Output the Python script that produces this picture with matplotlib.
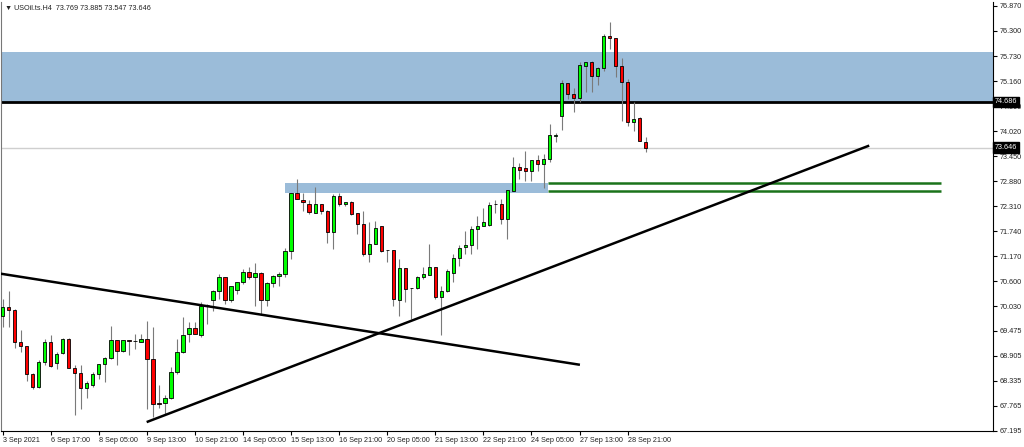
import matplotlib
matplotlib.use('Agg')
import matplotlib.pyplot as plt
import numpy as np

plt.rcParams['font.family'] = ['Liberation Sans', 'DejaVu Sans']

# ---- data (H4 candles) ----
opens = [69.806, 70.011, 69.950, 69.214, 69.123, 68.477, 68.190, 68.759, 69.228, 68.743,
         68.964, 69.290, 68.636, 68.509, 68.167, 68.227, 68.493, 68.714, 68.850, 69.260,
         69.023, 69.250, 69.235, 69.214, 69.290, 68.834, 67.826, 67.826, 67.940, 68.532,
         68.987, 69.403, 69.533, 69.365, 70.050, 70.162, 70.375, 70.694, 70.162, 70.412,
         70.580, 70.822, 70.694, 70.792, 70.184, 70.564, 70.717, 70.769, 71.300, 72.613,
         72.454, 72.363, 72.158, 72.363, 72.210, 71.732, 72.538, 72.363, 72.415, 72.151,
         71.907, 71.225, 71.452, 71.855, 71.310, 71.316, 70.177, 70.899, 70.444, 70.444,
         70.694, 70.746, 70.922, 70.252, 70.389, 70.792, 71.127, 71.377, 71.436, 71.794,
         71.855, 71.885, 72.350, 72.363, 72.021, 72.665, 73.198, 73.175, 73.121, 73.357,
         73.273, 73.387, 73.918, 74.373, 75.110, 74.867, 74.776, 75.511, 75.588, 75.270,
         75.452, 76.180, 76.135, 75.511, 75.133, 74.236, 74.314, 73.769]
highs = [70.200, 70.389, 69.960, 69.501, 69.130, 68.516, 68.796, 69.290, 69.365, 68.987,
         69.306, 69.300, 68.682, 68.698, 68.340, 68.532, 68.720, 68.873, 69.592, 69.270,
         69.267, 69.255, 69.403, 69.403, 69.706, 69.556, 68.227, 67.999, 68.645, 69.290,
         69.784, 69.670, 69.683, 70.125, 70.086, 70.400, 70.769, 70.700, 70.503, 70.594,
         70.883, 70.922, 71.020, 70.800, 70.594, 70.746, 70.808, 71.361, 72.620, 72.932,
         72.613, 72.461, 72.743, 72.370, 72.215, 72.590, 72.613, 72.415, 72.420, 72.155,
         72.210, 71.946, 71.983, 71.860, 71.320, 71.320, 71.111, 70.905, 70.450, 70.717,
         70.922, 71.452, 70.925, 70.503, 70.883, 71.225, 71.429, 71.755, 71.869, 72.083,
         72.265, 72.415, 72.461, 72.477, 72.688, 73.426, 73.296, 73.576, 73.357, 73.478,
         73.501, 74.177, 73.972, 75.185, 75.115, 74.997, 75.602, 75.588, 75.625, 75.470,
         76.233, 76.513, 76.140, 75.679, 75.208, 74.678, 74.336, 73.885]
lows = [69.563, 69.556, 69.078, 69.000, 68.340, 68.151, 68.170, 68.682, 68.645, 68.607,
        68.948, 68.620, 67.544, 67.696, 67.940, 68.197, 68.379, 68.304, 68.834, 68.698,
        68.994, 68.910, 69.062, 69.210, 67.696, 67.507, 67.719, 67.582, 67.930, 68.493,
        68.971, 69.214, 69.400, 69.328, 69.631, 69.930, 70.200, 70.086, 70.139, 70.314,
        70.542, 70.655, 70.048, 69.859, 70.048, 70.467, 70.503, 70.694, 71.111, 72.477,
        72.210, 72.135, 72.158, 72.135, 71.475, 71.338, 72.310, 72.324, 72.112, 71.680,
        71.186, 71.049, 71.452, 71.263, 71.049, 70.048, 69.820, 70.125, 69.745, 70.428,
        70.655, 70.740, 70.200, 69.381, 70.353, 70.580, 70.958, 71.225, 71.225, 71.338,
        71.850, 71.870, 72.158, 71.907, 71.566, 72.660, 72.932, 72.893, 72.893, 73.121,
        72.720, 73.326, 73.767, 74.054, 74.753, 74.450, 74.678, 74.905, 74.905, 75.072,
        75.397, 75.891, 75.247, 74.259, 74.145, 74.031, 73.804, 73.547]
closes = [70.011, 69.957, 69.214, 69.123, 68.477, 68.190, 68.759, 69.214, 68.659, 68.948,
          69.290, 68.623, 68.509, 68.167, 68.281, 68.493, 68.714, 68.850, 69.260, 69.023,
          69.260, 69.240, 69.230, 69.290, 68.834, 67.803, 67.794, 67.940, 68.532, 68.987,
          69.381, 69.533, 69.403, 70.048, 70.070, 70.375, 70.694, 70.162, 70.503, 70.580,
          70.822, 70.694, 70.792, 70.184, 70.564, 70.717, 70.769, 71.300, 72.613, 72.477,
          72.401, 72.174, 72.363, 72.210, 71.719, 72.538, 72.363, 72.415, 72.135, 71.907,
          71.225, 71.452, 71.810, 71.300, 71.315, 70.200, 70.899, 70.428, 70.440, 70.694,
          70.762, 70.922, 70.252, 70.389, 70.844, 71.127, 71.361, 71.436, 71.794, 71.855,
          71.946, 72.340, 72.360, 72.021, 72.688, 73.212, 73.143, 73.121, 73.357, 73.273,
          73.387, 73.933, 73.918, 75.110, 74.867, 74.776, 75.534, 75.588, 75.283, 75.452,
          76.180, 76.135, 75.511, 75.133, 74.222, 74.298, 73.804, 73.646]

date_labels = ["3 Sep 2021", "6 Sep 17:00", "8 Sep 05:00", "9 Sep 13:00", "10 Sep 21:00",
               "14 Sep 05:00", "15 Sep 13:00", "16 Sep 21:00", "20 Sep 05:00", "21 Sep 13:00",
               "22 Sep 21:00", "24 Sep 05:00", "27 Sep 13:00", "28 Sep 21:00"]
date_label_bars = [0, 8, 16, 24, 32, 40, 48, 56, 64, 72, 80, 88, 96, 104]
price_ticks = [76.870, 76.300, 75.730, 75.160, 74.590, 74.020, 73.450, 72.880, 72.310,
               71.740, 71.170, 70.600, 70.030, 69.475, 68.905, 68.335, 67.765, 67.195]

# drawn objects (bar index, price)
resistance_zone = (74.651, 75.816)
resistance_level = 74.686
support_zone = (46.97, 90.7, 72.620, 72.848)
green_levels = [72.834, 72.652]
green_span = (90.7, 156.1)
falling_line = ([-0.3, 96.06], [70.772, 68.698])
rising_line = ([23.96, 144.2], [67.393, 73.690])
bid_price = 73.646
title = "\u25BC USOil.ts.H4  73.769 73.885 73.547 73.646"

# ---- figure ----
W, H = 1024, 447
fig = plt.figure(figsize=(W / 100, H / 100), dpi=100)
fig.patch.set_facecolor('white')
ax = fig.add_axes([1 / W, (H - 431) / H, 992 / W, 429 / H])
ax.set_facecolor('white')

x = np.arange(len(opens))
o = np.array(opens); c = np.array(closes); hi = np.array(highs); lo = np.array(lows)

# zones
ax.axhspan(resistance_zone[0], resistance_zone[1], color='#9bbcd9', zorder=0, lw=0)
ax.fill_between([support_zone[0], support_zone[1]], support_zone[2], support_zone[3],
                color='#9bbcd9', zorder=0, lw=0)
ax.axhline(bid_price, color='#cfcfcf', lw=1.0, zorder=1)
ax.axhline(resistance_level, color='black', lw=2.0, zorder=1)
for g in green_levels:
    ax.plot(green_span, [g, g], color='#1a731a', lw=1.8, zorder=3, solid_capstyle='butt')

# candles
ax.vlines(x, lo, hi, color='#7a7a7a', lw=0.8, zorder=4)
bull = c >= o
body_bottom = np.minimum(o, c)
body_h = np.maximum(np.abs(c - o), 0.012)
ax.bar(x[bull], body_h[bull], bottom=body_bottom[bull], width=0.55,
       color='#00ff00', edgecolor='black', lw=0.6, zorder=5)
ax.bar(x[~bull], body_h[~bull], bottom=body_bottom[~bull], width=0.55,
       color='#ff0000', edgecolor='black', lw=0.6, zorder=5)

# trend lines
ax.plot(falling_line[0], falling_line[1], color='black', lw=1.8, zorder=6, solid_capstyle='butt')
ax.plot(rising_line[0], rising_line[1], color='black', lw=1.8, zorder=6, solid_capstyle='butt')

# axes
ax.set_xlim(-0.28, 164.8)
ax.set_ylim(67.19, 76.96)
ax.yaxis.tick_right()
ax.set_yticks(price_ticks)
ax.set_yticklabels([f"{p:.3f}" for p in price_ticks])
ax.set_xticks(date_label_bars)
ax.set_xticklabels(date_labels, ha='left')
ax.tick_params(axis='both', direction='out', length=3, width=0.8, color='black',
               labelsize=5.2, labelcolor='#222222', pad=2)
ax.tick_params(axis='x', pad=1)
for side in ['left', 'bottom', 'right']:
    ax.spines[side].set_color('black')
    ax.spines[side].set_linewidth(0.8)
ax.spines['top'].set_visible(False)
ax.spines['left'].set_color('#777777')

# price labels on the axis
trans = ax.get_yaxis_transform()
for val in [resistance_level, bid_price]:
    ax.text(1.002, val, f"{val:.3f}", transform=trans, ha='left', va='center',
            fontsize=5.2, color='white', clip_on=False, zorder=10,
            bbox=dict(boxstyle='square,pad=0.25', fc='black', ec='black'))

fig.text(5 / W, 1 - 8 / H, title, fontsize=5.2, color='#222222', ha='left', va='center')

fig.savefig('out.png', dpi=100, facecolor='white')
